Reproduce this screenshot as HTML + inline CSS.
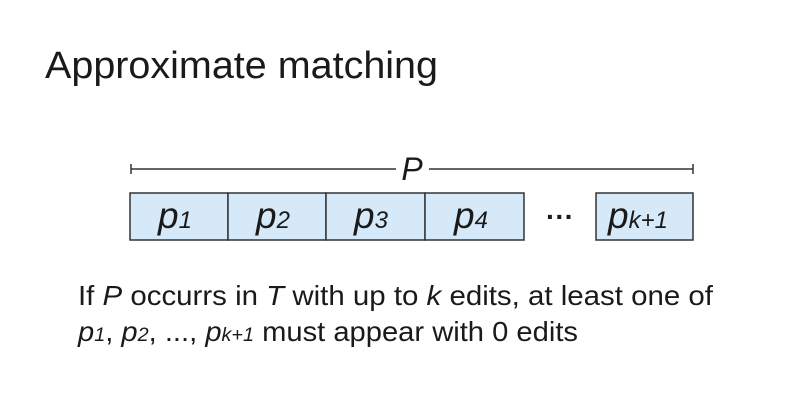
<!DOCTYPE html>
<html><head><style>
html,body{margin:0;padding:0;background:#fff;}
svg{display:block;font-family:"Liberation Sans",sans-serif;}
</style></head><body>
<svg width="802" height="404" viewBox="0 0 802 404" xmlns="http://www.w3.org/2000/svg">
<rect width="802" height="404" fill="#fff"/>
<text x="45" y="78" font-size="38" fill="#1a1a1a" textLength="393" lengthAdjust="spacingAndGlyphs">Approximate matching</text>
<g stroke="#333" stroke-width="1.5">
<line x1="131" y1="169" x2="396" y2="169"/>
<line x1="429" y1="169" x2="693" y2="169"/>
<line x1="131" y1="164" x2="131" y2="174"/>
<line x1="693" y1="164" x2="693" y2="174"/>
</g>
<text x="412" y="180" font-size="32" font-style="italic" fill="#1a1a1a" text-anchor="middle">P</text>
<g fill="#d6e9f8" stroke="#333" stroke-width="1.5">
<rect x="130" y="193" width="98" height="47"/>
<rect x="228" y="193" width="98" height="47"/>
<rect x="326" y="193" width="99" height="47"/>
<rect x="425" y="193" width="99" height="47"/>
<rect x="596" y="193" width="97" height="47"/>
</g>
<g font-style="italic" fill="#1a1a1a">
<text x="158" y="228" font-size="37">p<tspan font-size="24">1</tspan></text>
<text x="256" y="228" font-size="37">p<tspan font-size="24">2</tspan></text>
<text x="354" y="228" font-size="37">p<tspan font-size="24">3</tspan></text>
<text x="454" y="228" font-size="37">p<tspan font-size="24">4</tspan></text>
<text x="608" y="228" font-size="37">p<tspan font-size="24">k+1</tspan></text>
</g>
<text x="560" y="226" font-size="28" fill="#1a1a1a" text-anchor="middle" font-weight="bold">···</text>
<text x="78" y="305" font-size="28" fill="#1a1a1a" textLength="635" lengthAdjust="spacingAndGlyphs">If <tspan font-style="italic">P</tspan> occurrs in <tspan font-style="italic">T</tspan> with up to <tspan font-style="italic">k</tspan> edits, at least one of</text>
<text x="78" y="341" font-size="28" fill="#1a1a1a" textLength="500" lengthAdjust="spacingAndGlyphs"><tspan font-style="italic">p</tspan><tspan font-style="italic" font-size="19">1</tspan>, <tspan font-style="italic">p</tspan><tspan font-style="italic" font-size="19">2</tspan>, ..., <tspan font-style="italic">p</tspan><tspan font-style="italic" font-size="19">k+1</tspan> must appear with 0 edits</text>
</svg>
</body></html>
